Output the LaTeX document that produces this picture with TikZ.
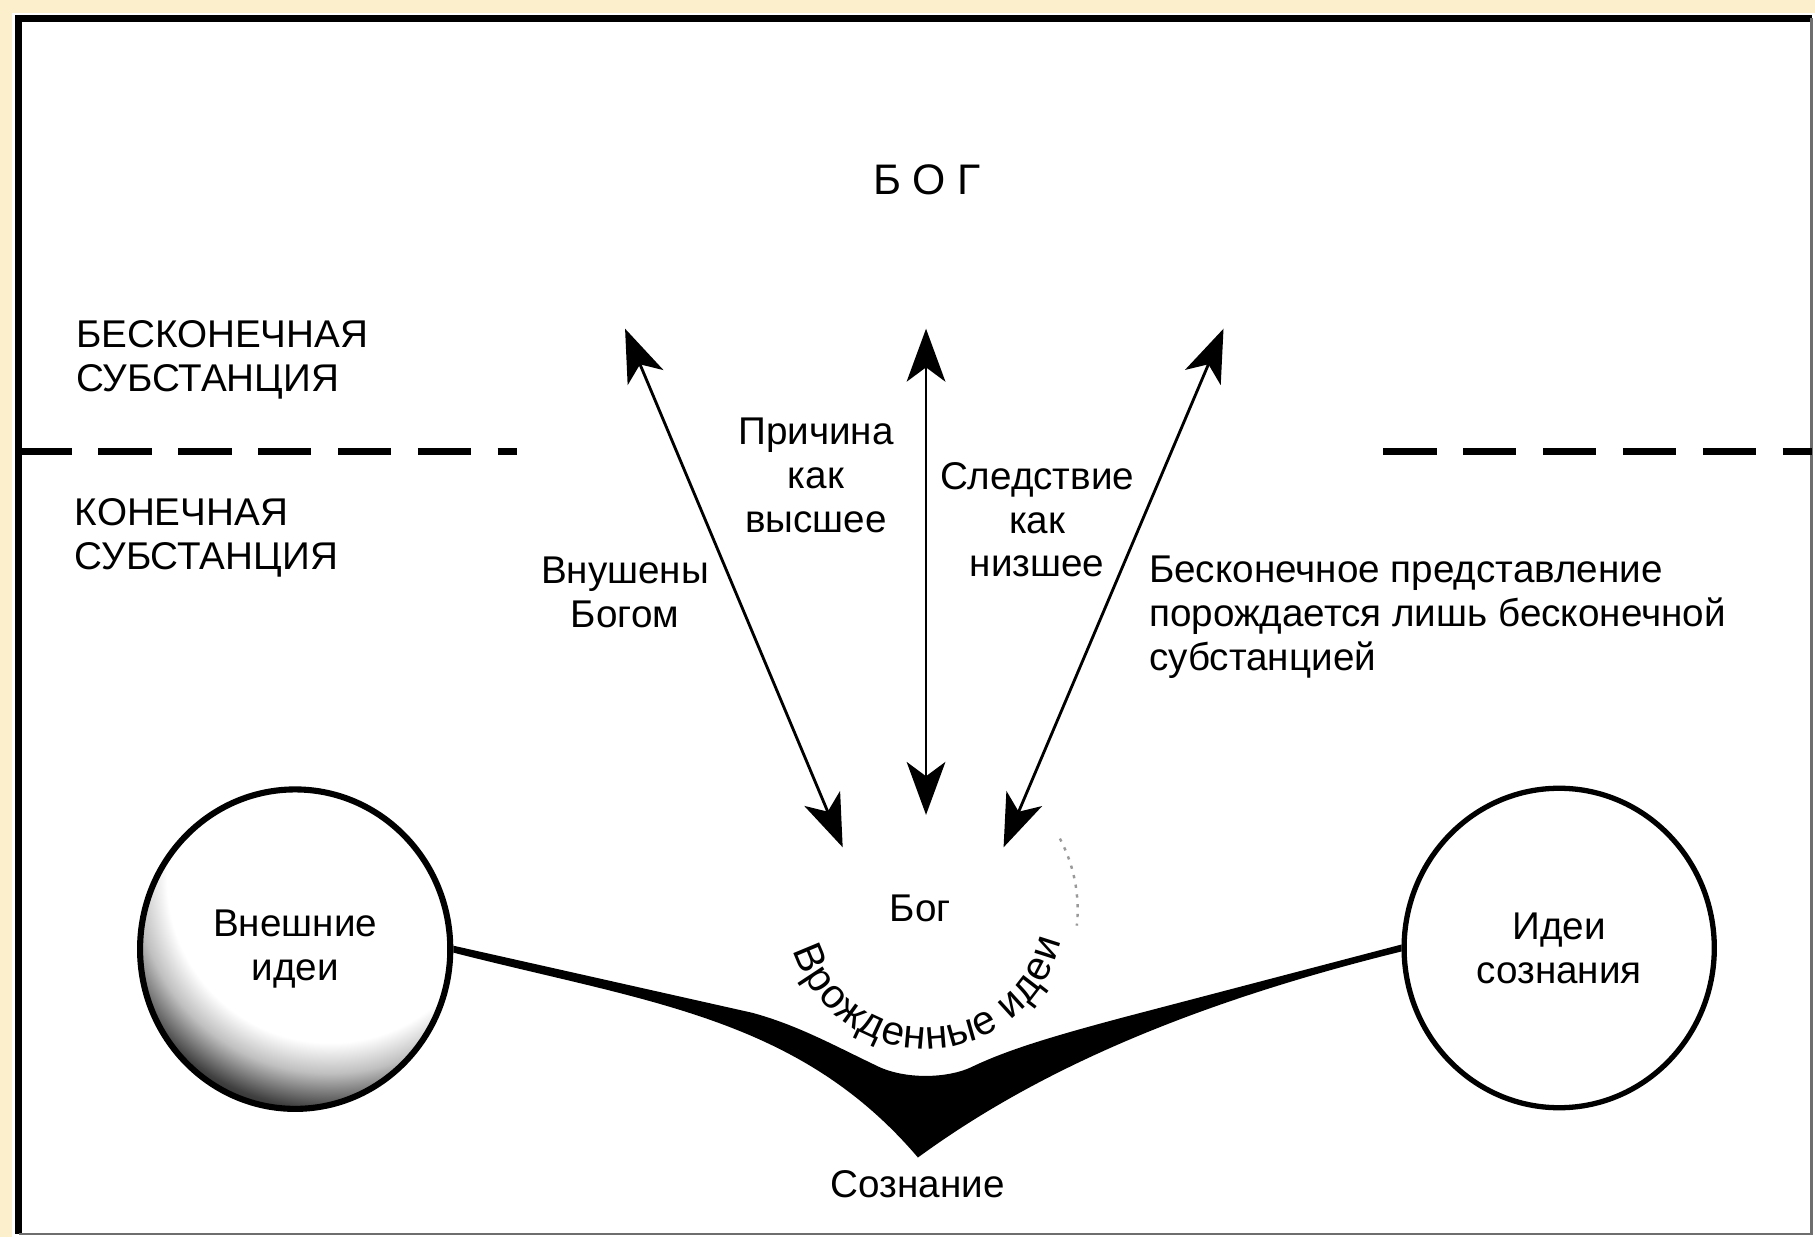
\documentclass[tikz,border=0pt]{standalone}
\usepackage{fontspec}
\setmainfont{Liberation Sans}
\usetikzlibrary{arrows.meta,shapes.geometric,decorations.text}
\definecolor{paper}{RGB}{252,240,204}
\definecolor{edge}{RGB}{110,110,110}
\pgfdeclareradialshading{stipple}{\pgfpoint{0bp}{0bp}}{color(0bp)=(white); color(16bp)=(white); color(19bp)=(black!25); color(22.5bp)=(black!75); color(25bp)=(black!92); color(50bp)=(black!92)}
\tikzset{
    lbl/.style={font=\fontsize{9.5}{10.8}\selectfont, align=center, inner sep=0pt},
    idea/.style={ellipse, draw, line width=1.3pt, minimum width=2.68cm, minimum height=2.76cm, lbl},
    twoway/.style={line width=0.7pt, {Stealth[length=13pt,width=9.5pt,inset=3.5pt]}-{Stealth[length=13pt,width=9.5pt,inset=3.5pt]}},
    levelline/.style={dash pattern=on 0.46cm off 0.23cm, line width=1.8pt}
}
\begin{document}
\begin{tikzpicture}
    \useasboundingbox (0,0) rectangle (15.68,10.69);
    \fill[paper] (0,0) rectangle (15.68,10.69);
    \fill[white] (0.10,0) rectangle (15.68,10.58);
    \draw[line width=1.6pt] (0.16,0.03) -- (0.16,10.53) -- (15.65,10.53);
    \draw[edge, line width=0.6pt] (15.65,10.53) -- (15.65,0.03) -- (0.16,0.03);
    \node[font=\fontsize{10.5}{12}\selectfont] (god) at (8.01,9.14) {Б\hspace{2.8pt}О\hspace{2.8pt}Г};
    \node[lbl, align=left, anchor=west] (inf) at (0.65,7.58) {БЕСКОНЕЧНАЯ\\СУБСТАНЦИЯ};
    \node[lbl, align=left, anchor=west] (fin) at (0.64,6.04) {КОНЕЧНАЯ\\СУБСТАНЦИЯ};
    \coordinate (D_1) at (0.16,6.79);
    \coordinate (D_2) at (4.47,6.79);
    \coordinate (D_3) at (11.95,6.79);
    \coordinate (D_4) at (15.65,6.79);
    \draw[levelline] (D_1) -- (D_2);
    \draw[levelline] (D_3) -- (D_4);
    \coordinate (L_top) at (5.40,7.85);
    \coordinate (L_bot) at (7.28,3.37);
    \coordinate (M_top) at (8.00,7.85);
    \coordinate (M_bot) at (8.00,3.65);
    \coordinate (R_top) at (10.57,7.85);
    \coordinate (R_bot) at (8.67,3.37);
    \draw[twoway] (L_bot) -- (L_top);
    \draw[twoway] (M_bot) -- (M_top);
    \draw[twoway] (R_bot) -- (R_top);
    \node[lbl] (cause) at (7.05,6.58) {Причина\\как\\высшее};
    \node[lbl] (effect) at (8.96,6.20) {Следствие\\как\\низшее};
    \node[lbl] (inspired) at (5.40,5.57) {Внушены\\Богом};
    \node[lbl, align=left, anchor=west] (infrep) at (9.92,5.36) {Бесконечное представление\\порождается лишь бесконечной\\субстанцией};
    \coordinate (extpos) at (2.55,2.49);
    \begin{scope}
        \clip (extpos) ellipse (1.34 and 1.38);
        \shade[shading=stipple] ([shift={(0.3,0.6)}]extpos) circle (2.2);
    \end{scope}
    \node[idea, line width=1.5pt] (ext) at (extpos) {Внешние\\идеи};
    \node[idea] (cons) at (13.47,2.50) {Идеи\\сознания};
    \fill ([yshift=-0.03cm]ext.east) .. controls (5.6,2.03) and (6.9,1.9) .. (7.93,0.69)
        .. controls (8.9,1.4) and (10.2,2.0) .. ([yshift=-0.03cm]cons.west)
        -- ([yshift=0.03cm]cons.west) -- (9.74,1.91)
        .. controls (9.1,1.74) and (8.7,1.62) .. (8.39,1.47)
        .. controls (8.2,1.38) and (7.85,1.36) .. (7.60,1.47)
        .. controls (7.2,1.66) and (6.9,1.83) .. (6.50,1.94)
        -- ([yshift=0.03cm]ext.east) -- cycle;
    \coordinate (innate) at (8.00,2.83);
    \node[lbl] (deity) at (7.95,2.84) {Бог};
    \path[decorate, decoration={text along path, text={|\fontsize{10}{11}\selectfont|Врожденные{ }идеи}, text align=fit to path}] (innate) ++(197:1.2) arc (197:347:1.2);
    \draw[black!40, line width=0.6pt, dash pattern=on 0.8pt off 1.6pt] (innate) ++(28:1.31) arc (28:-6:1.31);
    \node[lbl] (mind) at (7.93,0.46) {Сознание};
\end{tikzpicture}
\end{document}
